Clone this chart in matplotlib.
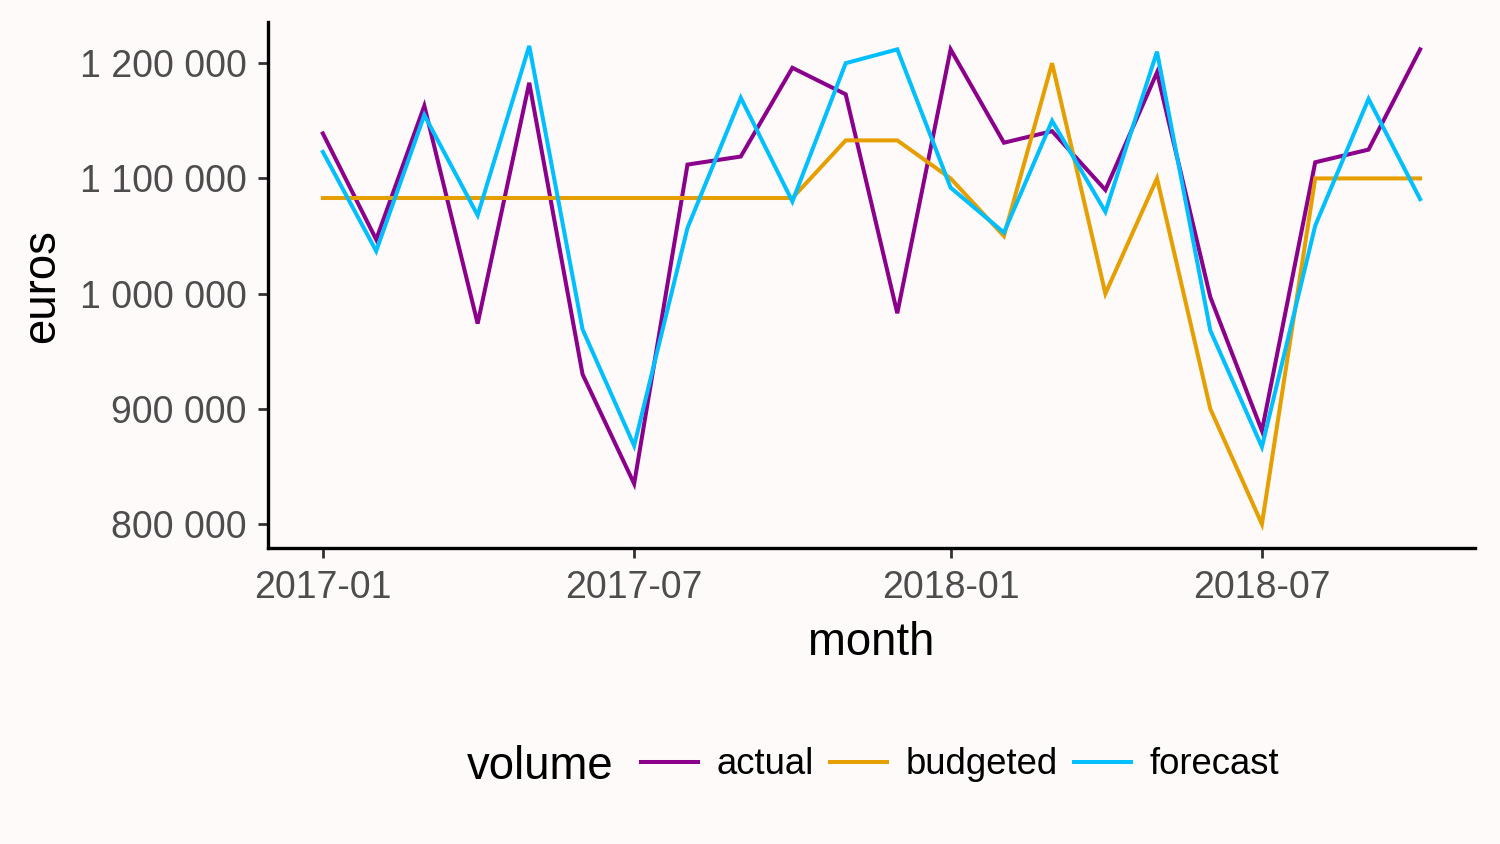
import matplotlib
matplotlib.use("Agg")
import matplotlib.pyplot as plt
import matplotlib.dates as mdates
from matplotlib.ticker import FuncFormatter, FixedLocator
import numpy as np
import pandas as pd

plt.rcParams['font.family'] = ['Liberation Sans', 'DejaVu Sans']

months = pd.date_range("2017-01-01", "2018-10-01", freq="MS")
actual = [1139000, 1047000, 1163000, 974000, 1183000, 930000, 835000, 1112000,
          1119000, 1196000, 1173000, 983000, 1212000, 1131000, 1141000, 1090000,
          1192000, 997000, 881000, 1114000, 1125000, 1212000]
budgeted = [1083000, 1083000, 1083000, 1083000, 1083000, 1083000, 1083000, 1083000,
            1083000, 1083000, 1133000, 1133000, 1100000, 1050000, 1200000, 1000000,
            1100000, 900000, 800000, 1100000, 1100000, 1100000]
forecast = [1123000, 1037000, 1155000, 1068000, 1215000, 969000, 868000, 1057000,
            1170000, 1080000, 1200000, 1212000, 1092000, 1053000, 1150000, 1071000,
            1210000, 968000, 867000, 1059000, 1169000, 1082000]
series_names = ["actual", "budgeted", "forecast"]
colors = ["#8B008B", "#E69F00", "#00BFFF"]
y_ticks = [800000, 900000, 1000000, 1100000, 1200000]
x_ticks = ["2017-01-01", "2017-07-01", "2018-01-01", "2018-07-01"]

BG = "#FFFAFA"
W, H = 1500, 844
fig = plt.figure(figsize=(W / 100, H / 100), dpi=100, facecolor=BG)
ax = fig.add_axes([268 / W, 1 - 548 / H, (1475 - 268) / W, (548 - 22) / H])
ax.set_facecolor(BG)

lines = []
for name, vals, c in zip(series_names, [actual, budgeted, forecast], colors):
    ln, = ax.plot(months, vals, color=c, lw=2.9, label=name, solid_joinstyle='miter')
    lines.append(ln)

allv = np.array(actual + budgeted + forecast)
lo, hi = allv.min(), allv.max()
pad = 0.05 * (hi - lo)
ax.set_ylim(lo - pad, hi + pad)
xn = mdates.date2num(months)
xp = 0.05 * (xn.max() - xn.min())
ax.set_xlim(xn.min() - xp, xn.max() + xp)

ax.yaxis.set_major_locator(FixedLocator(y_ticks))
ax.yaxis.set_major_formatter(FuncFormatter(lambda v, p: f"{int(round(v)):,}".replace(",", " ")))
ax.xaxis.set_major_locator(FixedLocator(mdates.date2num(pd.to_datetime(x_ticks))))
ax.xaxis.set_major_formatter(mdates.DateFormatter("%Y-%m"))

for s in ["top", "right"]:
    ax.spines[s].set_visible(False)
for s in ["left", "bottom"]:
    ax.spines[s].set_linewidth(2.4)
    ax.spines[s].set_color("black")
ax.tick_params(axis="both", length=7.5, width=2.0, color="#333333",
               labelsize=27.0, labelcolor="#4D4D4D")
ax.tick_params(axis="y", pad=8)
ax.tick_params(axis="x", pad=8)

fig.text(42 / W, 1 - 286 / H, "euros", rotation=90, ha="center", va="center",
         fontsize=32.8, color="black")
fig.text(871 / W, 1 - 655 / H, "month", ha="center", va="baseline",
         fontsize=32.8, color="black")

fig.text(467 / W, 1 - 779 / H, "volume", ha="left", va="baseline",
         fontsize=32.8, color="black")
leg = fig.legend(handles=lines, labels=series_names, loc="center left",
                 bbox_to_anchor=(641 / W, 1 - 765 / H), ncol=3, frameon=False,
                 fontsize=26.3, handlelength=1.56, handletextpad=0.5,
                 columnspacing=0.45, borderpad=0, borderaxespad=0)
for lh in leg.get_lines():
    lh.set_linewidth(2.9)

fig.savefig("out.png", dpi=100, facecolor=BG)
